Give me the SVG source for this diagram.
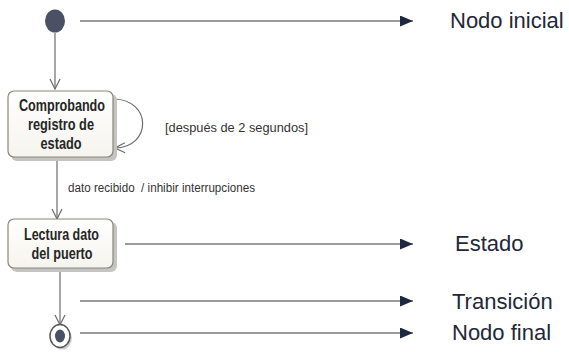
<svg xmlns="http://www.w3.org/2000/svg" width="569" height="352" viewBox="0 0 569 352">
<style>
.st{fill:url(#g);stroke:#8c8676;stroke-width:1.2}
.sh{fill:#c4c4c4}
.nt{font-family:"Liberation Sans",Arial,sans-serif;font-weight:bold;font-size:16px;fill:#262626;text-anchor:middle}
.lb{font-family:"Liberation Sans",Arial,sans-serif;font-size:12.5px;fill:#333}
.lg{font-family:"Liberation Sans",Arial,sans-serif;font-size:22px;fill:#1f2838}
.c{fill:none;stroke:#6b6b6b;stroke-width:1.2}
.l{fill:none;stroke:#7a7a7a;stroke-width:1.3}
</style>
<defs>
<linearGradient id="g" x1="0" y1="0" x2="0" y2="1">
<stop offset="0" stop-color="#ffffff"/>
<stop offset="1" stop-color="#f6f4ee"/>
</linearGradient>
<marker id="open" viewBox="0 0 12 12" refX="11" refY="6" markerWidth="12" markerHeight="12" markerUnits="userSpaceOnUse" orient="auto">
<path d="M1,1 L11,6 L1,11" fill="none" stroke="#6b6b6b" stroke-width="1.2"/>
</marker>
<marker id="solid" viewBox="0 0 13 11" refX="13" refY="5.5" markerWidth="13" markerHeight="11" markerUnits="userSpaceOnUse" orient="auto">
<path d="M0,0 L13,5.5 L0,11 Z" fill="#1c2740"/>
</marker>
</defs>
<g id="connectors">
<path class="c" d="M55,33 L55,89" marker-end="url(#open)"/>
<path class="c" d="M114,99 C152,100 152,147 115,148" marker-end="url(#open)"/>
<path class="c" d="M57,157 L57,219" marker-end="url(#open)"/>
<path class="c" d="M60,268 L60,325" marker-end="url(#open)"/>
<text class="lb" x="165" y="132" textLength="143" lengthAdjust="spacingAndGlyphs">[después de 2 segundos]</text>
<text class="lb" x="68" y="192" textLength="187" lengthAdjust="spacingAndGlyphs" xml:space="preserve">dato recibido  / inhibir interrupciones</text>
</g>
<g id="legend-arrows">
<path class="l" d="M80,21 L413,21" marker-end="url(#solid)"/>
<path class="l" d="M125,244 L413,244" marker-end="url(#solid)"/>
<path class="l" d="M80,301 L413,301" marker-end="url(#solid)"/>
<path class="l" d="M80,333 L413,333" marker-end="url(#solid)"/>
</g>
<g id="initial">
<ellipse cx="55" cy="21" rx="10" ry="11.5" fill="#4a5164"/>
</g>
<g id="state1">
<rect class="sh" x="11" y="94" width="106" height="67" rx="6"/>
<rect class="st" x="8" y="91" width="105" height="66" rx="6"/>
<text class="nt" x="62" y="111" textLength="86" lengthAdjust="spacingAndGlyphs">Comprobando</text>
<text class="nt" x="61" y="130" textLength="66" lengthAdjust="spacingAndGlyphs">registro de</text>
<text class="nt" x="61" y="149" textLength="41" lengthAdjust="spacingAndGlyphs">estado</text>
</g>
<g id="state2">
<rect class="sh" x="11" y="222" width="106" height="50" rx="6"/>
<rect class="st" x="8" y="219" width="105" height="49" rx="6"/>
<text class="nt" x="61.5" y="240" textLength="75" lengthAdjust="spacingAndGlyphs">Lectura dato</text>
<text class="nt" x="62" y="259" textLength="61" lengthAdjust="spacingAndGlyphs">del puerto</text>
</g>
<g id="final">
<ellipse cx="62" cy="338" rx="10" ry="11.5" fill="#cfcfcf"/>
<ellipse cx="60" cy="336" rx="10" ry="11.5" fill="#fff" stroke="#555" stroke-width="1.5"/>
<ellipse cx="60" cy="336" rx="5" ry="6.5" fill="#4a5164"/>
</g>
<g id="legend-labels">
<text class="lg" x="450" y="28">Nodo inicial</text>
<text class="lg" x="455" y="251">Estado</text>
<text class="lg" x="452" y="309">Transición</text>
<text class="lg" x="452" y="340">Nodo final</text>
</g>
</svg>
